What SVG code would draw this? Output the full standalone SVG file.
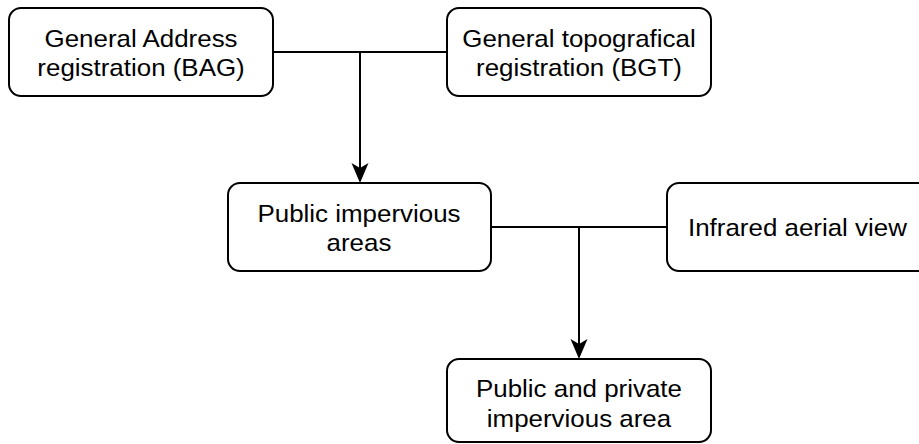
<svg xmlns="http://www.w3.org/2000/svg" width="919" height="444" viewBox="0 0 919 444">
<style>
.box{fill:#fff;stroke:#000;stroke-width:2}
.t{font-family:"Liberation Sans",Arial,sans-serif;font-size:24px;fill:#000;text-anchor:middle}
.c{fill:none;stroke:#000;stroke-width:2}
.s{transform:scale(1.08,1)}
</style>
<rect width="919" height="444" fill="#fff"/>
<g id="connectors">
<path class="c" d="M273,52 H447"/>
<path d="M360,52 V178" class="c"/>
<path d="M360,183 L351.5,163 L360,168 L368.5,163 Z" fill="#000"/>
<path class="c" d="M491,227 H667"/>
<path d="M579,227 V354" class="c"/>
<path d="M579,359 L570.5,339 L579,344 L587.5,339 Z" fill="#000"/>
</g>
<g id="bag">
<rect class="box" x="9" y="8" width="264" height="88" rx="12"/>
<g class="s">
<text class="t" x="130.6" y="47">General Address</text>
<text class="t" x="130.6" y="76">registration (BAG)</text>
</g>
</g>
<g id="bgt">
<rect class="box" x="447" y="8" width="264" height="88" rx="12"/>
<g class="s">
<text class="t" x="536.1" y="47">General topografical</text>
<text class="t" x="536.1" y="76">registration (BGT)</text>
</g>
</g>
<g id="public">
<rect class="box" x="228" y="183" width="263" height="88" rx="12"/>
<g class="s">
<text class="t" x="332.4" y="222">Public impervious</text>
<text class="t" x="332.4" y="251">areas</text>
</g>
</g>
<g id="infrared">
<rect class="box" x="667" y="183" width="264" height="88" rx="12"/>
<g class="s">
<text class="t" x="738.4" y="236">Infrared aerial view</text>
</g>
</g>
<g id="publicprivate">
<rect class="box" x="447" y="359" width="264" height="83" rx="12"/>
<g class="s">
<text class="t" x="536.1" y="397">Public and private</text>
<text class="t" x="536.1" y="427">impervious area</text>
</g>
</g>
</svg>
